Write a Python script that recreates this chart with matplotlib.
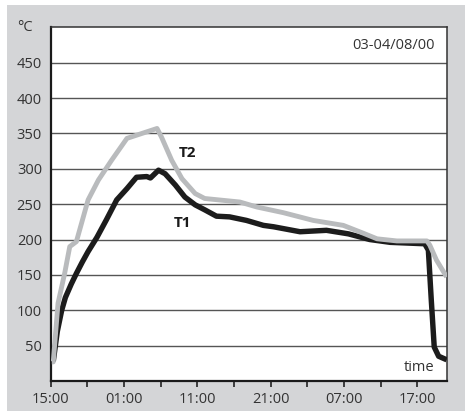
import matplotlib.pyplot as plt
from matplotlib.patches import Rectangle

# hours after 15:00 on day 1
t2_hours = [0.15, 0.35, 1.0, 1.9, 2.6, 3.5, 5.1, 6.5, 8.3, 10.4, 14.5, 15.1, 16.5,
            17.9, 19.7, 21.0, 25.8, 28.1, 29.0, 31.7, 35.8, 39.9, 42.6, 44.5,
            47.2, 51.3, 51.7, 52.6, 54.0]
t2_temp = [27, 27, 110, 152, 190, 197, 256, 284, 312, 343, 357, 345, 312,
           286, 265, 258, 253, 246, 244, 238, 227, 220, 209, 201,
           198, 198, 192, 171, 147]

t1_hours = [0.35, 0.9, 1.5, 2.0, 2.8, 3.5, 4.3, 5.1, 6.3, 7.6, 9.0, 10.4, 11.7,
            13.1, 13.6, 14.7, 15.6, 17.0, 18.3, 19.7, 21.0, 22.6, 24.4, 26.7,
            29.0, 30.4, 34.0, 37.6, 40.6, 43.5, 46.3, 51.0, 51.5, 51.9, 52.3,
            52.9, 54.0]
t1_temp = [28, 70, 100, 118, 137, 152, 168, 183, 203, 228, 256, 272, 288,
           289, 287, 298, 293, 277, 260, 249, 242, 233, 232, 227,
           220, 218, 211, 213, 208, 200, 196, 194, 185, 114, 48,
           35, 30]

x_ticks = [0, 5, 10, 15, 20, 25, 30, 35, 40, 45, 50]
x_labels = ['15:00', '', '01:00', '', '11:00', '', '21:00', '', '07:00', '', '17:00']
y_ticks = [50, 100, 150, 200, 250, 300, 350, 400, 450]

plt.rcParams['font.family'] = ['Open Sans', 'DejaVu Sans']

fig = plt.figure(figsize=(4.65, 4.11), dpi=100)
fig.patch.set_facecolor('white')
# grey panel behind the plot
fig.patches.append(Rectangle((7 / 465, 0), 1, 406 / 411, transform=fig.transFigure,
                             facecolor='#d4d5d7', edgecolor='none', zorder=-10))

ax = fig.add_axes([50.7 / 465, 30 / 411, 396 / 465, 353.7 / 411])
ax.set_facecolor('white')

ax.plot(t1_hours, t1_temp, color='#1c1c1c', lw=3.9, solid_joinstyle='round',
        solid_capstyle='butt', zorder=3)
ax.plot(t2_hours, t2_temp, color='#b9bbbd', lw=3.5, solid_joinstyle='round',
        solid_capstyle='butt', zorder=4)

ax.set_xlim(0, 54)
ax.set_ylim(0, 500)
ax.set_xticks(x_ticks)
ax.set_xticklabels(x_labels)
ax.set_yticks(y_ticks)
ax.tick_params(axis='x', length=4.3, width=1.2, color='#222222', pad=3.5,
               labelsize=10.5, labelcolor='#333333')
ax.tick_params(axis='y', length=0, pad=6.3, labelsize=10.5, labelcolor='#333333')

for y in y_ticks:
    ax.axhline(y, color='#555555', lw=1.0, zorder=1)

for side in ['left', 'bottom']:
    ax.spines[side].set_linewidth(1.6)
    ax.spines[side].set_color('#1a1a1a')
for side in ['top', 'right']:
    ax.spines[side].set_linewidth(1.1)
    ax.spines[side].set_color('#333333')

ax.text(-0.045, 1.0, '°C', transform=ax.transAxes, ha='right', va='center',
        fontsize=10.5, color='#333333')
ax.text(0.968, 0.037, 'time', transform=ax.transAxes, ha='right', va='center',
        fontsize=10.5, color='#333333')
ax.text(0.970, 0.949, '03-04/08/00', transform=ax.transAxes, ha='right', va='center',
        fontsize=10.5, color='#333333')
ax.text(17.5, 322, 'T2', fontsize=11, fontweight='bold', color='#1a1a1a',
        va='center', ha='left')
ax.text(16.8, 223, 'T1', fontsize=11, fontweight='bold', color='#1a1a1a',
        va='center', ha='left')

fig.savefig('out.png', dpi=100)
